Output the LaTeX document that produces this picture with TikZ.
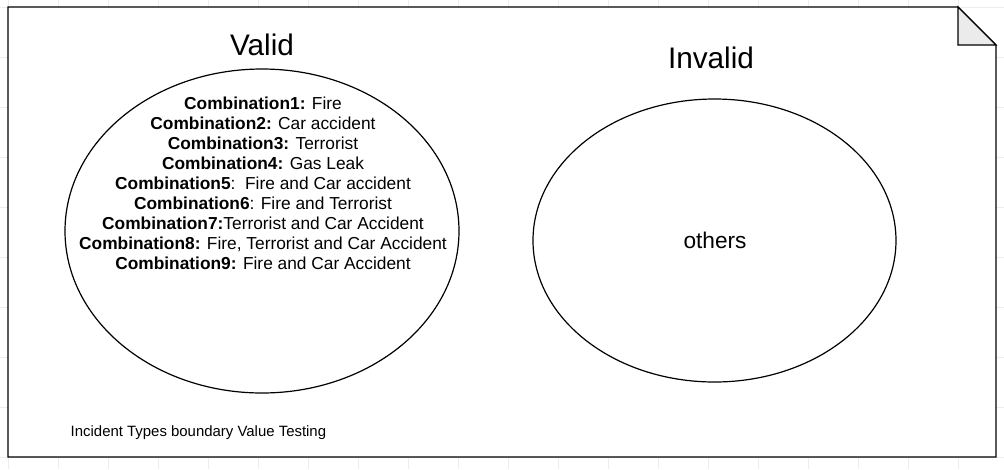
\documentclass[tikz,border=0pt]{standalone}
\usepackage{fontspec}
\setmainfont{Liberation Sans}
\begin{document}
\begin{tikzpicture}[x=0.75pt,y=-0.75pt,
  shp/.style={draw=black,line width=0.9pt},
  combo/.style={font=\fontsize{13}{15}\selectfont,align=center},
  title/.style={font=\fontsize{22.3}{25}\selectfont}]
\useasboundingbox (0,0) rectangle (1004,469);
\fill[white] (0,0) rectangle (1004,469);
\foreach \x in {8,58,...,1004} \draw[black!7,line width=0.6pt] (\x,0) -- (\x,469);
\foreach \y in {7,57,...,469} \draw[black!7,line width=0.6pt] (0,\y) -- (1004,\y);
% note shape
\coordinate (nA) at (8,7);
\coordinate (nB) at (958,7);
\coordinate (nC) at (996,45);
\coordinate (nD) at (996,457);
\coordinate (nE) at (8,457);
\coordinate (nF) at (958,45);
\filldraw[shp,fill=white] (nA) -- (nB) -- (nC) -- (nD) -- (nE) -- cycle;
\filldraw[shp,fill=black!8,line join=miter] (nB) -- (nF) -- (nC) -- cycle;
% ellipses
\draw[shp] (262,231) ellipse [x radius=197, y radius=162];
\draw[shp] (714.5,240.5) ellipse [x radius=181.5, y radius=141.5];
\node[title] (valid) at (262,45) {Valid};
\node[title] (invalid) at (711,58) {Invalid};
\node[combo] (combos) at (263,183) {%
\textbf{Combination1:} Fire\\
\textbf{Combination2:} Car accident\\
\textbf{Combination3:} Terrorist\\
\textbf{Combination4:} Gas Leak\\
\textbf{Combination5}:\ \ Fire and Car accident\\
\textbf{Combination6}: Fire and Terrorist\\
\textbf{Combination7:}Terrorist and Car Accident\\
\textbf{Combination8:} Fire, Terrorist and Car Accident\\
\textbf{Combination9:} Fire and Car Accident};
\node[font=\fontsize{17}{20}\selectfont] (others) at (715,240) {others};
\node[font=\fontsize{11.2}{13}\selectfont,anchor=west] (caption) at (66,433) {Incident Types boundary Value Testing};
\end{tikzpicture}
\end{document}
